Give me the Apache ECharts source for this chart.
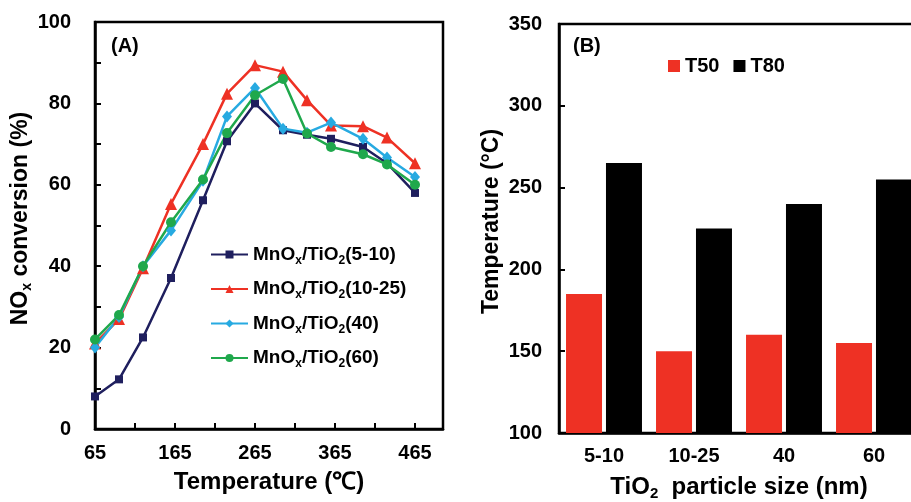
<!DOCTYPE html>
<html>
<head>
<meta charset="utf-8">
<script src="https://cdn.jsdelivr.net/npm/echarts@6/dist/echarts.min.js"></script>
<style>
  html, body { margin: 0; padding: 0; background: #fff; }
  #chart { width: 911px; height: 502px; }
</style>
</head>
<body>
<div id="chart"></div>
<script>
// Panel A: NOx conversion vs. reaction temperature
const temps = [65, 95, 125, 160, 200, 230, 265, 300, 330, 360, 400, 430, 465];
const conv_5_10  = [8, 12.2, 22.5, 37.1, 56.2, 70.7, 80, 73.4, 72.3, 71.3, 69.3, 65.3, 58];
const conv_10_25 = [21, 27, 39.5, 55.3, 70, 82.4, 89.4, 87.8, 80.8, 74.6, 74.4, 71.6, 65.3];
const conv_40    = [20, 27.5, 40, 48.8, 61, 76.8, 83.8, 73.8, 72.8, 75.3, 71.3, 66.7, 61.9];
const conv_60    = [22, 28, 40, 50.8, 61.3, 72.7, 82, 86, 72.6, 69.3, 67.5, 65, 60];
const tempTicks  = [65, 115, 165, 215, 265, 315, 365, 415, 465];
const tempLabels = [65, 165, 265, 365, 465];

// Panel B: light-off temperatures by TiO2 particle size
const sizes = ['5-10', '10-25', '40', '60'];
const t50 = [185, 150, 160, 155];
const t80 = [265, 225, 240, 255];

const FONT = "'Liberation Sans', Arial, sans-serif";
const colors = ['#1f1f5e', '#ee3124', '#27aae1', '#1fa84c'];
const names = ['MnOx/TiO2(5-10)', 'MnOx/TiO2(10-25)', 'MnOx/TiO2(40)', 'MnOx/TiO2(60)'];
const values = [conv_5_10, conv_10_25, conv_40, conv_60];
const symbols = ['rect', 'triangle', 'diamond', 'circle'];
const symbolSizes = [8, 12, [10, 12], 10];

const pair = a => a.map((v, i) => [temps[i], v]);

const richText = {
  m: { fontFamily: FONT, fontWeight: 'bold', fontSize: 19, color: '#000', lineHeight: 24 },
  s: { fontFamily: FONT, fontWeight: 'bold', fontSize: 12, color: '#000', lineHeight: 14, verticalAlign: 'bottom' }
};
function titleRich(size) {
  return {
    m: { fontFamily: FONT, fontWeight: 'bold', fontSize: size, color: '#000', lineHeight: size + 4 },
    s: { fontFamily: FONT, fontWeight: 'bold', fontSize: Math.round(size * 0.62), color: '#000', lineHeight: Math.round(size * 0.72), verticalAlign: 'bottom' }
  };
}

function legendLabel(name) {
  // MnOx/TiO2(...) with subscripts
  const tail = name.replace('MnOx/TiO2', '');
  return '{m|MnO}{s|x}{m|/TiO}{s|2}{m|' + tail + '}';
}

const axisText = { fontFamily: FONT, fontWeight: 'bold', fontSize: 20, color: '#000' };
const blackLine = { lineStyle: { color: '#000', width: 2.5 } };

const option = {
  animation: false,
  backgroundColor: '#fff',
  title: [
    { text: '(A)', left: 106, top: 31, textStyle: { fontFamily: FONT, fontWeight: 'bold', fontSize: 20, color: '#000' } },
    { text: '(B)', left: 568, top: 31, textStyle: { fontFamily: FONT, fontWeight: 'bold', fontSize: 20, color: '#000' } }
  ],
  legend: [
    {
      data: names,
      orient: 'vertical',
      left: 205,
      top: 240,
      itemWidth: 37,
      itemHeight: 10,
      itemGap: 13,
      formatter: legendLabel,
      textStyle: { rich: richText }
    },
    {
      data: ['T50', 'T80'],
      left: 663,
      top: 51,
      icon: 'rect',
      itemWidth: 12,
      itemHeight: 12,
      itemGap: 14,
      textStyle: { fontFamily: FONT, fontWeight: 'bold', fontSize: 20, color: '#000' }
    }
  ],
  grid: [
    { left: 95, top: 22, width: 348, height: 407, outerBoundsMode: 'none', containLabel: false,
      show: true, borderColor: '#000', borderWidth: 2.5, backgroundColor: 'transparent' },
    { left: 559, top: 24, width: 360, height: 409, outerBoundsMode: 'none', containLabel: false,
      show: true, borderColor: '#000', borderWidth: 2.5, backgroundColor: 'transparent' }
  ],
  xAxis: [
    {
      gridIndex: 0,
      type: 'value',
      min: 65,
      max: 500,
      axisLine: blackLine,
      axisTick: { inside: true, length: 6, lineStyle: { color: '#000', width: 2 }, customValues: tempTicks },
      axisLabel: Object.assign({ margin: 14, customValues: tempLabels }, axisText),
      splitLine: { show: false },
      name: 'Temperature (℃)',
      nameLocation: 'middle',
      nameGap: 41,
      nameTextStyle: { fontFamily: FONT, fontWeight: 'bold', fontSize: 24, color: '#000' }
    },
    {
      gridIndex: 1,
      type: 'category',
      data: sizes,
      boundaryGap: true,
      axisLine: blackLine,
      axisTick: { inside: true, length: 6, interval: 0, lineStyle: { color: '#000', width: 2 } },
      axisLabel: Object.assign({ margin: 13, interval: 0 }, axisText),
      name: '{m|TiO}{s|2}{m|  particle size (nm)}',
      nameLocation: 'middle',
      nameGap: 40,
      nameTextStyle: { rich: titleRich(24), padding: [0, 0, 0, 0] }
    },
    {
      // centre ticks for each size group
      gridIndex: 1,
      type: 'category',
      data: sizes,
      boundaryGap: true,
      axisLine: { show: false },
      axisTick: { inside: true, length: 6, interval: 0, alignWithLabel: true, lineStyle: { color: '#000', width: 2 } },
      axisLabel: { show: false }
    }
  ],
  yAxis: [
    {
      gridIndex: 0,
      type: 'value',
      min: 0,
      max: 100,
      interval: 10,
      axisLine: { show: true, lineStyle: { color: '#000', width: 2.5 } },
      axisTick: { show: true, inside: true, length: 6, lineStyle: { color: '#000', width: 2 } },
      axisLabel: Object.assign({ margin: 24, formatter: v => (v % 20 === 0 ? String(v) : '') }, axisText),
      splitLine: { show: false },
      name: '{m|NO}{s|x}{m| conversion (%)}',
      nameLocation: 'middle',
      nameGap: 46,
      nameTextStyle: { rich: titleRich(23), padding: [0, 0, 0, 14] }
    },
    {
      gridIndex: 1,
      type: 'value',
      min: 100,
      max: 350,
      interval: 50,
      axisLine: { show: true, lineStyle: { color: '#000', width: 2.5 } },
      axisTick: { show: true, inside: true, length: 6, lineStyle: { color: '#000', width: 2 } },
      axisLabel: Object.assign({ margin: 17 }, axisText),
      splitLine: { show: false },
      name: 'Temperature (°C)',
      nameLocation: 'middle',
      nameGap: 56,
      nameTextStyle: { fontFamily: FONT, fontWeight: 'bold', fontSize: 23, color: '#000', padding: [0, 0, 0, 14] }
    }
  ],
  series: [
    ...names.map((n, i) => ({
      name: n,
      type: 'line',
      xAxisIndex: 0,
      yAxisIndex: 0,
      data: pair(values[i]),
      symbol: symbols[i],
      symbolSize: symbolSizes[i],
      showAllSymbol: true,
      color: colors[i],
      lineStyle: { color: colors[i], width: 2.5 },
      itemStyle: { color: colors[i] }
    })),
    {
      name: 'T50',
      type: 'bar',
      xAxisIndex: 1,
      yAxisIndex: 1,
      data: t50,
      barWidth: 36,
      barGap: '11%',
      itemStyle: { color: '#ee3124' }
    },
    {
      name: 'T80',
      type: 'bar',
      xAxisIndex: 1,
      yAxisIndex: 1,
      data: t80,
      barWidth: 36,
      barGap: '11%',
      itemStyle: { color: '#000' }
    }
  ]
};

const chart = echarts.init(document.getElementById('chart'), null, { renderer: 'canvas' });
chart.setOption(option);
</script>
</body>
</html>
